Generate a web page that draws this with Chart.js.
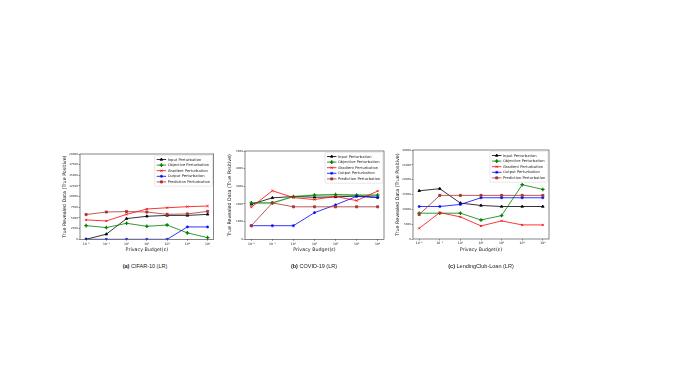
<!DOCTYPE html>
<html>
<head>
<meta charset="utf-8">
<script src="https://cdn.jsdelivr.net/npm/chart.js@4.4.1/dist/chart.umd.min.js"></script>
<style>
  html, body { margin: 0; padding: 0; background: #fff; }
  body { width: 673px; height: 379px; position: relative; overflow: hidden; }
  canvas { position: absolute; }
  .cap {
    position: absolute; white-space: nowrap; color: #222;
    font-family: "Liberation Sans", Arial, sans-serif; font-size: 11px;
    transform-origin: 0 0; transform: scale(0.5) translate(-50%, -50%);
  }
</style>
</head>
<body>
<canvas id="cifar"></canvas>
<canvas id="covid"></canvas>
<canvas id="loan"></canvas>
<div class="cap" style="left:145px;top:265.5px"><b>(a)</b> CIFAR-10 (LR)</div>
<div class="cap" style="left:313.5px;top:266px"><b>(b)</b> COVID-19 (LR)</div>
<div class="cap" style="left:480.5px;top:266px"><b>(c)</b> LendingClub-Loan (LR)</div>
<script>
// ── data ────────────────────────────────────────────────
const BUDGET_EXP = [-2, -1, 0, 1, 2, 3, 4];   // privacy budget = 10^x
const METHODS = ['Input Perturbation', 'Objective Perturbation', 'Gradient Perturbation',
                 'Output Perturbation', 'Prediction Perturbation'];

// (a) CIFAR-10
const cifarInput      = [0, 1200, 4850, 5400, 5600, 5600, 5850];
const cifarObjective  = [3200, 2750, 3750, 3050, 3350, 1500, 400];
const cifarGradient   = [4550, 4300, 5850, 7100, 7400, 7650, 7800];
const cifarOutput     = [0, 0, 0, 0, 0, 2900, 2900];
const cifarPrediction = [5800, 6400, 6500, 6400, 5850, 5950, 6550];

// (b) COVID-19
const covidInput      = [1980, 2350, 2420, 2380, 2400, 2450, 2380];
const covidObjective  = [2060, 2060, 2420, 2500, 2530, 2500, 2500];
const covidObjLow     = [1990, 1990, 2380, 2420, 2440, 2420, 2420];
const covidObjHigh    = [2110, 2110, 2460, 2570, 2580, 2570, 2570];
const covidGradient   = [1820, 2750, 2360, 2250, 2430, 2190, 2730];
const covidOutput     = [770, 770, 770, 1510, 1950, 2430, 2360];
const covidPrediction = [770, 2060, 1840, 1840, 1840, 1840, 1840];

// (c) LendingClub-Loan
const loanInput      = [16250, 16950, 12100, 11300, 10950, 10950, 10950];
const loanObjective  = [8700, 8700, 8700, 6400, 7900, 18300, 16700];
const loanGradient   = [3600, 8900, 7450, 4400, 6100, 4750, 4750];
const loanOutput     = [10950, 10950, 11650, 13900, 13900, 13900, 13900];
const loanPrediction = [8250, 14700, 14700, 14700, 14700, 14700, 14700];

// ── style ───────────────────────────────────────────────
const COLORS  = ['#000000', '#008000', '#ff0000', '#0000ff', '#a83232'];
const MARKERS = ['triangle', 'cross', 'crossRot', 'star', 'rect'];
const SUP = { '-': '⁻', '0': '⁰', '1': '¹', '2': '²', '3': '³', '4': '⁴' };
const FONT = '"DejaVu Sans", sans-serif';
const Y_W = 26, X_H = 14, PAD_T = 6, PAD_R = 8, PAD_B = 2;

function series(values, i) {
  return {
    label: METHODS[i],
    data: BUDGET_EXP.map((x, k) => ({ x, y: values[k] })),
    borderColor: COLORS[i], backgroundColor: COLORS[i],
    pointBackgroundColor: COLORS[i], pointBorderColor: COLORS[i],
    borderWidth: 0.8, pointStyle: MARKERS[i],
    pointRadius: i === 1 ? 1.8 : 1.5, pointBorderWidth: i === 1 ? 1.3 : 0.8,
    tension: 0, fill: false, order: 5 - i,
  };
}

function band(low, high, color) {
  return [
    { data: BUDGET_EXP.map((x, k) => ({ x, y: low[k] })), borderWidth: 0, pointRadius: 0, fill: false, order: 10 },
    { data: BUDGET_EXP.map((x, k) => ({ x, y: high[k] })), borderWidth: 0, pointRadius: 0,
      fill: '-1', backgroundColor: color, order: 10 },
  ];
}

// frame + legend drawn like matplotlib
const frameAndLegend = {
  id: 'frameAndLegend',
  afterDatasetsDraw(chart) {
    const { ctx, chartArea: a } = chart;
    ctx.save();
    ctx.strokeStyle = '#333'; ctx.lineWidth = 0.6;
    ctx.strokeRect(a.left, a.top, a.right - a.left, a.bottom - a.top);

    const items = chart.data.datasets.filter(d => d.label);
    ctx.font = '3.7px ' + FONT;
    const tw = Math.max(...items.map(d => ctx.measureText(d.label).width));
    const w = 13 + tw + 2.5, h = 8.6 + (items.length - 1) * 5.6;
    const x = a.right - 1.2 - w, y = a.top + 1.2;
    ctx.fillStyle = 'rgba(255,255,255,0.85)';
    ctx.strokeStyle = '#d0d0d0'; ctx.lineWidth = 0.5;
    ctx.beginPath(); ctx.roundRect(x, y, w, h, 1); ctx.fill(); ctx.stroke();
    items.forEach((d, i) => {
      const cy = y + 4.3 + i * 5.6;
      ctx.strokeStyle = d.borderColor; ctx.fillStyle = d.borderColor; ctx.lineWidth = 0.8;
      ctx.beginPath(); ctx.moveTo(x + 2, cy); ctx.lineTo(x + 11.5, cy); ctx.stroke();
      ctx.lineWidth = d.pointBorderWidth;
      Chart.helpers.drawPoint(ctx, { pointStyle: d.pointStyle, radius: d.pointRadius,
        rotation: 0, borderWidth: d.pointBorderWidth }, x + 6.75, cy);
      ctx.fillStyle = '#222'; ctx.textBaseline = 'middle'; ctx.textAlign = 'left';
      ctx.fillText(d.label, x + 13, cy + 0.2);
    });
    ctx.restore();
  },
};

function makeChart(id, box, datasets, yMax, yStep) {
  const c = document.getElementById(id);
  const plotW = box.r - box.l, plotH = box.b - box.t;
  c.width = Math.ceil(plotW + Y_W + PAD_R);
  c.height = Math.ceil(plotH + PAD_T + PAD_B + X_H);
  c.style.left = (box.l - Y_W) + 'px';
  c.style.top = (box.t - PAD_T) + 'px';
  const tickGrid = { display: true, drawOnChartArea: false, drawTicks: true, tickLength: 1.5, color: '#333', lineWidth: 0.5 };
  return new Chart(c, {
    type: 'line',
    data: { datasets },
    options: {
      responsive: false, animation: false, devicePixelRatio: 1,
      layout: { padding: { top: PAD_T, left: 0, right: c.width - Y_W - plotW, bottom: c.height - PAD_T - plotH - X_H } },
      plugins: { legend: { display: false }, tooltip: { enabled: false } },
      scales: {
        x: {
          type: 'linear', min: -2.3, max: 4.3,
          afterBuildTicks: s => { s.ticks = BUDGET_EXP.map(v => ({ value: v })); },
          afterFit: s => { s.height = X_H; },
          grid: tickGrid, border: { display: false },
          ticks: { autoSkip: false, maxRotation: 0, padding: 1.2, color: '#222',
                   font: { family: FONT, size: 3.1 },
                   callback: v => '10' + String(v).split('').map(ch => SUP[ch]).join('') },
          title: { display: true, text: 'Privacy Budget(ε)', color: '#222',
                   font: { family: FONT, size: 4.8 }, padding: { top: 0, bottom: 0.6 } },
        },
        y: {
          min: 0, max: yMax,
          afterFit: s => { s.width = Y_W; },
          grid: tickGrid, border: { display: false },
          ticks: { stepSize: yStep, padding: 0.6, color: '#222', font: { family: FONT, size: 2.7 },
                   callback: v => String(v) },
          title: { display: true, text: 'True Revealed Data (True Positive)', color: '#222',
                   font: { family: FONT, size: 4.8 }, padding: { top: 7.5, bottom: 0 } },
        },
      },
    },
    plugins: [frameAndLegend],
  });
}

makeChart('cifar', { l: 79.5, t: 154, r: 213.2, b: 239.3 }, [
  series(cifarInput, 0), series(cifarObjective, 1), series(cifarGradient, 2),
  series(cifarOutput, 3), series(cifarPrediction, 4),
], 20000, 2500);

makeChart('covid', { l: 244.5, t: 151, r: 383.5, b: 239.3 }, [
  series(covidInput, 0), series(covidObjective, 1), series(covidGradient, 2),
  series(covidOutput, 3), series(covidPrediction, 4),
  ...band(covidObjLow, covidObjHigh, 'rgba(0,128,0,0.22)'),
], 5000, 1000);

makeChart('loan', { l: 413, t: 150, r: 549, b: 239 }, [
  series(loanInput, 0), series(loanObjective, 1), series(loanGradient, 2),
  series(loanOutput, 3), series(loanPrediction, 4),
], 30000, 5000);
</script>
</body>
</html>
